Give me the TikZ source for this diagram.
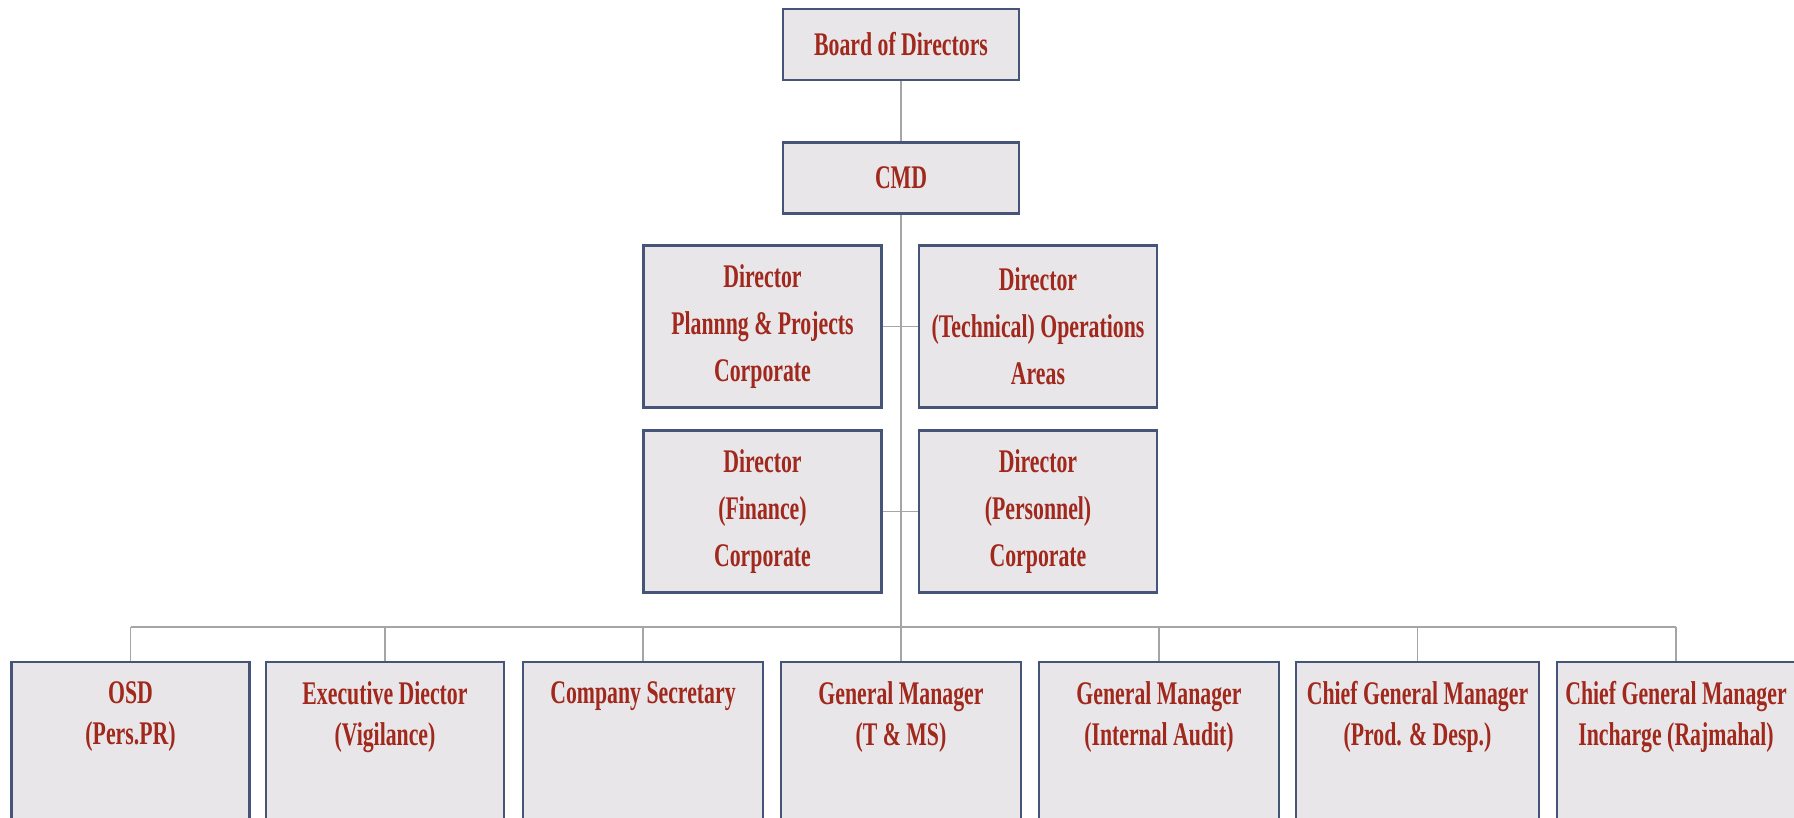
\documentclass[tikz,border=0pt]{standalone}
\usepackage{fontspec}
\setmainfont[FakeStretch=0.66]{Liberation Serif}
\definecolor{boxfill}{RGB}{232,230,232}
\definecolor{boxline}{RGB}{70,84,120}
\definecolor{txtred}{RGB}{160,40,28}
\definecolor{conn}{RGB}{165,165,165}
\begin{document}
\begin{tikzpicture}[x=0.5pt,y=-0.5pt,
  box/.style={draw=boxline,line width=1.2pt,fill=boxfill,inner sep=0pt,
    text=txtred,font=\bfseries\fontsize{16.5}{23.5}\selectfont,align=center},
  topbox/.style={box,minimum width=118pt,minimum height=35.5pt},
  dirbox/.style={box,minimum width=119pt,minimum height=81pt},
  lowbox/.style={draw=boxline,line width=1.2pt,fill=boxfill,inner sep=0pt,
    minimum width=119pt,minimum height=120pt,anchor=north},
  lowtext/.style={anchor=north,inner sep=0pt,text=txtred,align=center,
    font=\bfseries\fontsize{16.5}{20.5}\selectfont},
  link/.style={draw=conn,line width=0.6pt}]
\useasboundingbox (0,0) rectangle (1794,818);
\clip (0,0) rectangle (1794,818);
\fill[white] (0,0) rectangle (1794,818);

% top
\node[topbox] (board) at (901,44.5) {Board of Directors};
\node[topbox] (cmd) at (901,178) {CMD};

% directors
\node[dirbox] (dpp) at (762.5,326.5) {Director\\Plannng \& Projects\\Corporate};
\node[dirbox] (dtech) at (1038,326.5) {Director\\(Technical) Operations\\Areas};
\node[dirbox] (dfin) at (762.5,511.5) {Director\\(Finance)\\Corporate};
\node[dirbox] (dpers) at (1038,511.5) {Director\\(Personnel)\\Corporate};

% bus
\coordinate (bus) at (901,627);
\coordinate (busL) at (130.5,627);
\coordinate (busR) at (1676,627);

% bottom boxes
\node[lowbox] (osd) at (130.5,661) {};
\node[lowbox] (exec) at (385,661) {};
\node[lowbox,minimum width=120pt] (cs) at (643,661) {};
\node[lowbox,minimum width=120pt] (gmt) at (901,661) {};
\node[lowbox,minimum width=120pt] (gmia) at (1159,661) {};
\node[lowbox,minimum width=121.5pt] (cgm) at (1417.5,661) {};
\node[lowbox] (cgmr) at (1676,661) {};

\node[lowtext] (osdt) at ([yshift=-10pt]osd.north) {OSD\\(Pers.PR)};
\node[lowtext] (exect) at ([yshift=-10pt]exec.north) {Executive Diector\\(Vigilance)};
\node[lowtext] (cst) at ([yshift=-10pt]cs.north) {Company Secretary};
\node[lowtext] (gmtt) at ([yshift=-10pt]gmt.north) {General Manager\\(T \& MS)};
\node[lowtext] (gmiat) at ([yshift=-10pt]gmia.north) {General Manager\\(Internal Audit)};
\node[lowtext] (cgmt) at ([yshift=-10pt]cgm.north) {Chief General Manager\\(Prod. \& Desp.)};
\node[lowtext] (cgmrt) at ([yshift=-10pt]cgmr.north) {Chief General Manager\\Incharge (Rajmahal)};

% connectors
\begin{scope}[on background layer/.style={}]
\draw[link] (board.south) -- (cmd.north);
\draw[link] (cmd.south) -- (bus);
\draw[link] (dpp.east) -- (dtech.west);
\draw[link] (dfin.east) -- (dpers.west);
\draw[link] (busL) -- (busR);
\foreach \n in {osd,exec,cs,gmt,gmia,cgm,cgmr}
  \draw[link] (\n.north |- bus) -- (\n.north);
\end{scope}
\end{tikzpicture}
\end{document}
